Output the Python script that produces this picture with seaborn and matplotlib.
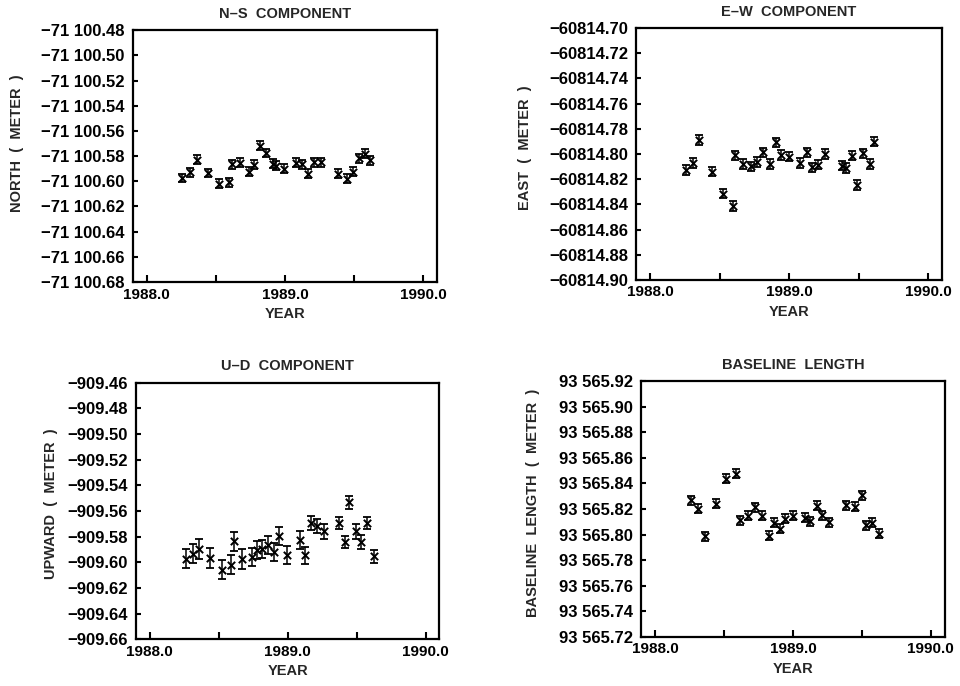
import matplotlib

matplotlib.use("Agg")
import matplotlib.pyplot as plt  # noqa: E402
import seaborn as sns  # noqa: E402

# ---- data --------------------------------------------------------------------
ns_year = [1988.254, 1988.312, 1988.365, 1988.442, 1988.519, 1988.592, 1988.614, 1988.674,
           1988.737, 1988.778, 1988.821, 1988.862, 1988.911, 1988.935, 1988.990, 1989.080,
           1989.123, 1989.167, 1989.210, 1989.258, 1989.382, 1989.452, 1989.495, 1989.534,
           1989.582, 1989.616]
ns_north = [-71100.5974, -71100.5928, -71100.5828, -71100.5934, -71100.6019, -71100.6008,
            -71100.5865, -71100.5854, -71100.5923, -71100.5870, -71100.5719, -71100.5775,
            -71100.5860, -71100.5875, -71100.5900, -71100.5854, -71100.5865, -71100.5939,
            -71100.5850, -71100.5850, -71100.5939, -71100.5979, -71100.5923, -71100.5817,
            -71100.5780, -71100.5833]
ns_err = [0.0035] * len(ns_year)

ew_year = [1988.260, 1988.308, 1988.352, 1988.441, 1988.523, 1988.593, 1988.607, 1988.667,
           1988.728, 1988.771, 1988.812, 1988.863, 1988.904, 1988.940, 1989.000, 1989.080,
           1989.128, 1989.164, 1989.205, 1989.260, 1989.381, 1989.410, 1989.451, 1989.489,
           1989.530, 1989.581, 1989.614]
ew_east = [-60814.8128, -60814.8072, -60814.7888, -60814.8139, -60814.8315, -60814.8411,
           -60814.8011, -60814.8080, -60814.8099, -60814.8064, -60814.7987, -60814.8080,
           -60814.7907, -60814.8008, -60814.8021, -60814.8072, -60814.7987, -60814.8107,
           -60814.8085, -60814.8000, -60814.8093, -60814.8112, -60814.8013, -60814.8248,
           -60814.7995, -60814.8080, -60814.7901]
ew_err = [0.0038] * len(ew_year)

ud_year = [1988.261, 1988.314, 1988.358, 1988.438, 1988.525, 1988.588, 1988.612, 1988.672,
           1988.738, 1988.774, 1988.817, 1988.859, 1988.897, 1988.938, 1988.996, 1989.086,
           1989.125, 1989.168, 1989.209, 1989.265, 1989.371, 1989.415, 1989.444, 1989.492,
           1989.531, 1989.574, 1989.623]
ud_up = [-909.5971, -909.5932, -909.5896, -909.5966, -909.6057, -909.6018, -909.5836,
         -909.5974, -909.5958, -909.5901, -909.5896, -909.5865, -909.5919, -909.5797,
         -909.5945, -909.5828, -909.5945, -909.5693, -909.5714, -909.5758, -909.5693,
         -909.5841, -909.5531, -909.5758, -909.5841, -909.5693, -909.5953]
ud_err = [0.0075, 0.0072, 0.0075, 0.0075, 0.0075, 0.0075, 0.0075, 0.0075, 0.0070, 0.0070,
          0.0070, 0.0070, 0.0070, 0.0070, 0.0070, 0.0070, 0.0065, 0.0055, 0.0055, 0.0060,
          0.0050, 0.0050, 0.0050, 0.0060, 0.0055, 0.0050, 0.0050]

bl_year = [1988.257, 1988.313, 1988.363, 1988.445, 1988.517, 1988.584, 1988.613, 1988.671,
           1988.728, 1988.776, 1988.825, 1988.863, 1988.906, 1988.945, 1988.998, 1989.089,
           1989.125, 1989.171, 1989.214, 1989.262, 1989.387, 1989.450, 1989.498, 1989.531,
           1989.575, 1989.623]
bl_length = [93565.8269, 93565.8201, 93565.7987, 93565.8241, 93565.8437, 93565.8478,
             93565.8112, 93565.8149, 93565.8214, 93565.8149, 93565.7992, 93565.8092,
             93565.8044, 93565.8123, 93565.8149, 93565.8131, 93565.8105, 93565.8227,
             93565.8152, 93565.8097, 93565.8230, 93565.8217, 93565.8309, 93565.8071,
             93565.8092, 93565.8005]
bl_err = [0.0035] * len(bl_year)

ns_ticks = [-71100.68 + 0.02 * i for i in range(11)]
ns_labels = ["−71 100.68", "−71 100.66", "−71 100.64", "−71 100.62", "−71 100.60",
             "−71 100.58", "−71 100.56", "−71 100.54", "−71 100.52", "−71 100.50",
             "−71 100.48"]
ew_ticks = [-60814.90 + 0.02 * i for i in range(11)]
ew_labels = ["−60814.90", "−60814.88", "−60814.86", "−60814.84", "−60814.82", "−60814.80",
             "−60814.78", "−60814.76", "−60814.74", "−60814.72", "−60814.70"]
ud_ticks = [-909.66 + 0.02 * i for i in range(11)]
ud_labels = ["−909.66", "−909.64", "−909.62", "−909.60", "−909.58", "−909.56", "−909.54",
             "−909.52", "−909.50", "−909.48", "−909.46"]
bl_ticks = [93565.72 + 0.02 * i for i in range(11)]
bl_labels = ["93 565.72", "93 565.74", "93 565.76", "93 565.78", "93 565.80", "93 565.82",
             "93 565.84", "93 565.86", "93 565.88", "93 565.90", "93 565.92"]

year_ticks = [1988.0, 1989.0, 1990.0]
year_labels = ["1988.0", "1989.0", "1990.0"]

sns.set_style("ticks")
plt.rcParams["font.family"] = ["Liberation Sans", "DejaVu Sans"]
plt.rcParams["font.weight"] = "bold"

fig = plt.figure(figsize=(9.6, 6.86), dpi=100)

panels = [
    # (rect, title, ylabel, x, y, err, yticks, ylabels, label x, label y)
    ([0.1385, 0.589, 0.3167, 0.367], "N–S  COMPONENT", "NORTH  (  METER  )",
     ns_year, ns_north, ns_err, ns_ticks, ns_labels, -0.36, 0.55),
    ([0.663, 0.592, 0.318, 0.367], "E–W  COMPONENT", "EAST  (  METER  )",
     ew_year, ew_east, ew_err, ew_ticks, ew_labels, -0.343, 0.525),
    ([0.1417, 0.068, 0.316, 0.374], "U–D  COMPONENT", "UPWARD  (  METER  )",
     ud_year, ud_up, ud_err, ud_ticks, ud_labels, -0.257, 0.53),
    ([0.668, 0.072, 0.316, 0.372], "BASELINE  LENGTH", "BASELINE  LENGTH  (  METER  )",
     bl_year, bl_length, bl_err, bl_ticks, bl_labels, -0.333, 0.525),
]

for rect, title, ylab, xs, ys, errs, yt, yl, lx, ly in panels:
    ax = fig.add_axes(rect)
    ax.errorbar(xs, ys, yerr=errs, fmt="none", ecolor="black", elinewidth=1.1,
                capsize=3.2, capthick=1.3)
    sns.scatterplot(x=xs, y=ys, marker="x", color="black", s=28, linewidth=1.4, ax=ax)
    ax.set_xlim(1987.9, 1990.1)
    ax.set_ylim(yt[0], yt[-1])
    ax.set_xticks(year_ticks)
    ax.set_xticklabels(year_labels)
    ax.set_xticks([1988.5, 1989.5], minor=True)
    ax.set_yticks(yt)
    ax.set_yticklabels(yl)
    ax.tick_params(axis="both", which="both", direction="in", width=1.5, colors="black")
    ax.tick_params(axis="y", which="both", length=3.5, pad=6, labelsize=12)
    ax.tick_params(axis="x", which="both", length=5, pad=4, labelsize=11)
    for sp in ax.spines.values():
        sp.set_visible(True)
        sp.set_linewidth(1.6)
        sp.set_color("black")
    ax.set_title(title, fontsize=10.5, fontweight="bold", pad=9)
    ax.set_xlabel("YEAR", fontsize=10.5, fontweight="bold", labelpad=4)
    ax.set_ylabel(ylab, fontsize=10.5, fontweight="bold")
    ax.yaxis.set_label_coords(lx, ly)

fig.savefig("out.png", dpi=100)
